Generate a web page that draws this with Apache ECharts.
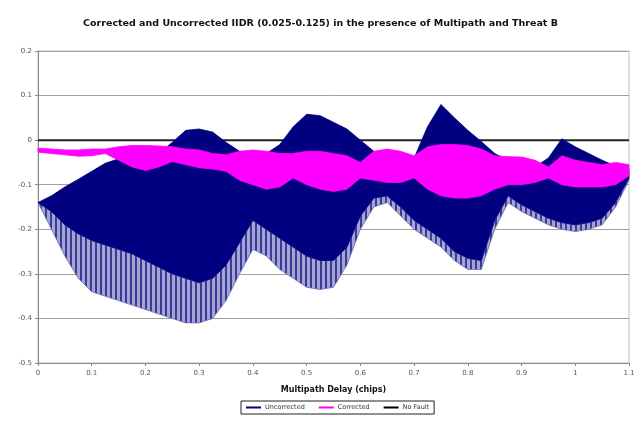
<!DOCTYPE html>
<html><head><meta charset="utf-8">
<script src="https://cdn.jsdelivr.net/npm/echarts@6/dist/echarts.min.js"></script>
<style>html,body{margin:0;padding:0;background:#fff}#c{width:641px;height:423px}</style>
</head><body><div id="c"></div>
<script>
// Multipath delay (chips)
const delay = [0,0.025,0.05,0.075,0.1,0.125,0.15,0.175,0.2,0.225,0.25,0.275,0.3,0.325,0.35,0.375,0.4,0.425,0.45,0.475,0.5,0.525,0.55,0.575,0.6,0.625,0.65,0.675,0.7,0.725,0.75,0.775,0.8,0.825,0.85,0.875,0.9,0.925,0.95,0.975,1.0,1.025,1.05,1.075,1.1];
// Uncorrected: upper envelope of the oscillation
const uncUpper = [-0.14,-0.125,-0.105,-0.088,-0.07,-0.052,-0.042,-0.038,-0.035,-0.03,-0.005,0.022,0.025,0.018,-0.005,-0.025,-0.03,-0.03,-0.01,0.03,0.058,0.055,0.04,0.025,0.0,-0.025,-0.04,-0.045,-0.04,0.03,0.08,0.05,0.022,-0.003,-0.03,-0.045,-0.055,-0.06,-0.04,0.003,-0.015,-0.03,-0.045,-0.058,-0.065];
// Uncorrected: lower edge of the dense (solid) part
const uncDenseLower = [-0.14,-0.16,-0.19,-0.21,-0.225,-0.235,-0.245,-0.255,-0.27,-0.285,-0.3,-0.31,-0.32,-0.31,-0.28,-0.23,-0.18,-0.2,-0.22,-0.24,-0.26,-0.27,-0.27,-0.24,-0.17,-0.13,-0.125,-0.15,-0.18,-0.2,-0.22,-0.25,-0.265,-0.27,-0.18,-0.125,-0.145,-0.16,-0.175,-0.185,-0.19,-0.185,-0.175,-0.14,-0.085];
// Uncorrected: lowest tips of the oscillation
const uncLower = [-0.14,-0.2,-0.26,-0.31,-0.34,-0.35,-0.36,-0.37,-0.38,-0.39,-0.4,-0.41,-0.41,-0.4,-0.36,-0.3,-0.245,-0.26,-0.29,-0.31,-0.33,-0.335,-0.33,-0.28,-0.2,-0.15,-0.14,-0.17,-0.2,-0.22,-0.24,-0.27,-0.29,-0.29,-0.2,-0.14,-0.16,-0.175,-0.19,-0.2,-0.205,-0.2,-0.19,-0.15,-0.09];
// Corrected: upper and lower envelopes
const corUpper = [-0.018,-0.02,-0.022,-0.022,-0.02,-0.02,-0.015,-0.012,-0.012,-0.013,-0.015,-0.02,-0.022,-0.03,-0.033,-0.025,-0.022,-0.025,-0.03,-0.03,-0.025,-0.025,-0.03,-0.035,-0.05,-0.025,-0.02,-0.025,-0.035,-0.015,-0.01,-0.01,-0.012,-0.02,-0.035,-0.037,-0.038,-0.045,-0.06,-0.035,-0.045,-0.05,-0.055,-0.05,-0.055];
const corLower = [-0.027,-0.03,-0.033,-0.036,-0.035,-0.03,-0.045,-0.06,-0.068,-0.06,-0.048,-0.055,-0.062,-0.065,-0.07,-0.09,-0.1,-0.11,-0.105,-0.085,-0.1,-0.11,-0.115,-0.11,-0.085,-0.09,-0.095,-0.095,-0.085,-0.11,-0.125,-0.13,-0.13,-0.125,-0.11,-0.1,-0.1,-0.095,-0.085,-0.1,-0.105,-0.105,-0.105,-0.1,-0.08];
// No Fault reference
const noFaultX = [0, 1.1];
const noFaultY = [0, 0];
const xTicks = ['0','0.1','0.2','0.3','0.4','0.5','0.6','0.7','0.8','0.9','1','1.1'];

const pairs = (xs, ys) => xs.map((x, i) => [x, ys[i]]);

// streaked fill for the sparse lower tips of the uncorrected oscillation
const pc = document.createElement('canvas');
pc.width = 5; pc.height = 4;
const g = pc.getContext('2d');
g.fillStyle = '#a4a4d4'; g.fillRect(0, 0, 5, 4);
g.fillStyle = '#3a3a98'; g.fillRect(0, 0, 2, 4);
const fringeFill = { image: pc, repeat: 'repeat' };

// band between two envelopes, drawn through the axis scales
function band(name, upper, lower, fill, stroke, z, color) {
  return {
    name: name, type: 'custom', z: z, color: color || fill,
    data: pairs(delay, upper),
    encode: { x: 0, y: 1 },
    renderItem: function (params, api) {
      if (params.dataIndex !== 0) return null;
      const top = delay.map((x, i) => api.coord([x, upper[i]]));
      const bot = delay.map((x, i) => api.coord([x, lower[i]])).reverse();
      return {
        type: 'polygon',
        shape: { points: top.concat(bot) },
        style: { fill: fill, stroke: stroke, lineWidth: stroke ? 0.8 : 0 }
      };
    }
  };
}

const F = 'DejaVu Sans';
const chart = echarts.init(document.getElementById('c'));
chart.setOption({
  animation: false,
  backgroundColor: '#fff',
  title: {
    text: 'Corrected and Uncorrected IIDR (0.025-0.125) in the presence of Multipath and Threat B',
    left: 'center', top: 14,
    textStyle: { fontSize: 9.5, fontWeight: 'bold', color: '#111', fontFamily: F }
  },
  legend: {
    bottom: 9, left: 241,
    data: [
      { name: 'Uncorrected', icon: 'rect' },
      { name: 'Corrected', icon: 'rect' },
      { name: 'No Fault', icon: 'rect' }
    ],
    itemWidth: 15, itemHeight: 2, itemGap: 14,
    borderColor: '#222', borderWidth: 1, padding: [3, 5],
    textStyle: { fontSize: 6.5, color: '#333', fontFamily: F, padding: [0, 0, 0, -1] }
  },
  grid: { left: 38, right: 12, top: 51, bottom: 60, show: true, borderColor: '#c0c0c0', borderWidth: 1 },
  xAxis: {
    type: 'value', min: 0, max: 1.1, interval: 0.1,
    name: 'Multipath Delay (chips)', nameLocation: 'middle', nameGap: 23,
    nameTextStyle: { fontSize: 8, fontWeight: 'bold', color: '#111', fontFamily: F },
    axisLine: { show: true, onZero: false, lineStyle: { color: '#888' } },
    axisTick: { show: true, length: 3, lineStyle: { color: '#888' } },
    axisLabel: { fontSize: 7, color: '#555', margin: 7, fontFamily: F,
      formatter: (v) => xTicks[Math.round(v * 10)] },
    splitLine: { show: false }
  },
  yAxis: {
    type: 'value', min: -0.5, max: 0.2, interval: 0.1,
    axisLine: { show: true, lineStyle: { color: '#888' } },
    axisTick: { show: true, length: 3, lineStyle: { color: '#888' } },
    axisLabel: { fontSize: 7, color: '#555', margin: 6, fontFamily: F,
      formatter: (v) => (Math.abs(v) < 1e-9 ? '0' : String(+v.toFixed(1))) },
    splitLine: { show: true, lineStyle: { color: '#a0a0a0', width: 1 } }
  },
  series: [
    { name: 'No Fault', type: 'line', data: pairs(noFaultX, noFaultY), showSymbol: false, symbol: 'none',
      color: '#000', lineStyle: { color: '#222', width: 2 }, z: 1 },
    band('Uncorrected fringe', uncDenseLower, uncLower, fringeFill, '#6a6ab0', 2, '#7373b5'),
    band('Uncorrected', uncUpper, uncDenseLower, '#000080', '#000080', 3),
    band('Corrected', corUpper, corLower, '#ff00ff', '#ff00ff', 4)
  ]
});
</script>
</body></html>
